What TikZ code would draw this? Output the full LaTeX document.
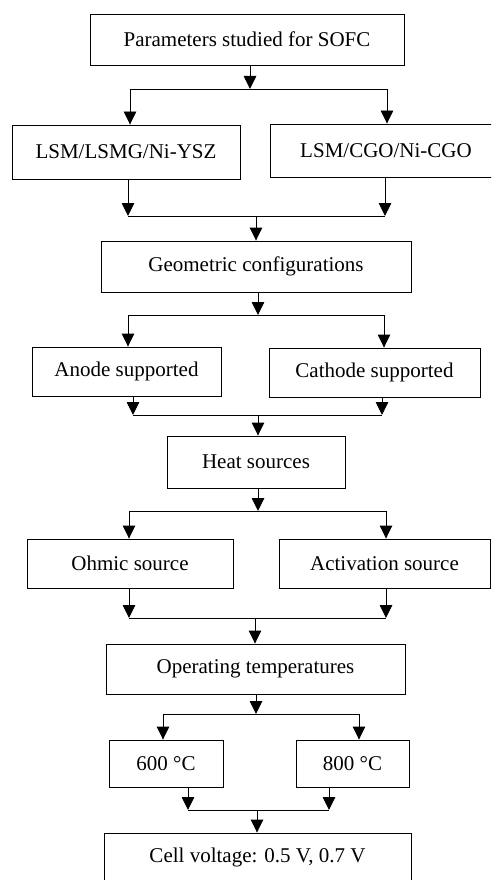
\documentclass[tikz,border=0pt]{standalone}
\usepackage{fontspec}
\setmainfont{Liberation Serif}
\usetikzlibrary{arrows.meta}
\begin{document}
\begin{tikzpicture}[x=1pt,y=-1pt,
  box/.style={draw, line width=0.9pt, inner sep=0pt, font=\fontsize{21}{24}\selectfont},
  arr/.style={line width=0.9pt, -{Triangle[width=12.5pt,length=13pt]}},
  ln/.style={line width=0.9pt}]
\useasboundingbox (0,0) rectangle (491,880);
\clip (0,0) rectangle (491,880);
% boxes
\node[box, minimum width=314pt, minimum height=51pt] (top) at (247,39.5) {Parameters studied for SOFC};
\node[box, minimum width=228pt, minimum height=54pt] (lsmg) at (126,152) {LSM/LSMG/Ni-YSZ};
\node[box, minimum width=232pt, minimum height=53pt] (cgo) at (386,150.5) {LSM/CGO/Ni-CGO};
\node[box, minimum width=310pt, minimum height=51pt] (geo) at (256,266.5) {Geometric configurations};
\node[box, minimum width=189pt, minimum height=49pt] (anode) at (126.5,371.5) {Anode supported};
\node[box, minimum width=211pt, minimum height=49pt] (cathode) at (374.5,372.5) {Cathode supported};
\node[box, minimum width=178pt, minimum height=52pt] (heat) at (256,462) {Heat sources};
\node[box, minimum width=206pt, minimum height=49pt] (ohmic) at (130,563.5) {Ohmic source};
\node[box, minimum width=211pt, minimum height=49pt] (activ) at (384.5,563.5) {Activation source};
\node[box, minimum width=299pt, minimum height=50pt] (oper) at (255.5,669) {Operating temperatures};
\node[box, minimum width=114pt, minimum height=47pt] (t600) at (166,763.5) {600 °C};
\node[box, minimum width=113pt, minimum height=47pt] (t800) at (352.5,763.5) {800 °C};
\node[box, minimum width=307pt, minimum height=48pt] (cell) at (257.5,857) {Cell voltage: 0.5 V, 0.7 V};
% junction coordinates
\coordinate (s1) at (250,89);   \coordinate (s1l) at (130,89);  \coordinate (s1r) at (387,89);
\coordinate (m1) at (256,216);  \coordinate (m1l) at (128,216); \coordinate (m1r) at (385,216);
\coordinate (s2) at (258,315);  \coordinate (s2l) at (128,315); \coordinate (s2r) at (384,315);
\coordinate (m2) at (258,415);  \coordinate (m2l) at (133,415); \coordinate (m2r) at (382,415);
\coordinate (s3) at (258,511);  \coordinate (s3l) at (129,511); \coordinate (s3r) at (386,511);
\coordinate (m3) at (255,618);  \coordinate (m3l) at (129,618); \coordinate (m3r) at (386,618);
\coordinate (s4) at (256,714);  \coordinate (s4l) at (163,714); \coordinate (s4r) at (359,714);
\coordinate (m4) at (257,810);  \coordinate (m4l) at (188,810); \coordinate (m4r) at (329,810);
% stage 1
\draw[arr] (s1 |- top.south) -- (s1);
\draw[ln] (s1l) -- (s1r);
\draw[arr] (s1l) -- (s1l |- lsmg.north);
\draw[arr] (s1r) -- (s1r |- cgo.north);
\draw[arr] (m1l |- lsmg.south) -- (m1l);
\draw[arr] (m1r |- cgo.south) -- (m1r);
\draw[ln] (m1l) -- (m1r);
\draw[arr] (m1) -- (m1 |- geo.north);
% stage 2
\draw[arr] (s2 |- geo.south) -- (s2);
\draw[ln] (s2l) -- (s2r);
\draw[arr] (s2l) -- (s2l |- anode.north);
\draw[arr] (s2r) -- (s2r |- cathode.north);
\draw[arr] (m2l |- anode.south) -- (m2l);
\draw[arr] (m2r |- cathode.south) -- (m2r);
\draw[ln] (m2l) -- (m2r);
\draw[arr] (m2) -- (m2 |- heat.north);
% stage 3
\draw[arr] (s3 |- heat.south) -- (s3);
\draw[ln] (s3l) -- (s3r);
\draw[arr] (s3l) -- (s3l |- ohmic.north);
\draw[arr] (s3r) -- (s3r |- activ.north);
\draw[arr] (m3l |- ohmic.south) -- (m3l);
\draw[arr] (m3r |- activ.south) -- (m3r);
\draw[ln] (m3l) -- (m3r);
\draw[arr] (m3) -- (m3 |- oper.north);
% stage 4
\draw[arr] (s4 |- oper.south) -- (s4);
\draw[ln] (s4l) -- (s4r);
\draw[arr] (s4l) -- (s4l |- t600.north);
\draw[arr] (s4r) -- (s4r |- t800.north);
\draw[arr] (m4l |- t600.south) -- (m4l);
\draw[arr] (m4r |- t800.south) -- (m4r);
\draw[ln] (m4l) -- (m4r);
\draw[arr] (m4) -- (m4 |- cell.north);
\end{tikzpicture}
\end{document}
